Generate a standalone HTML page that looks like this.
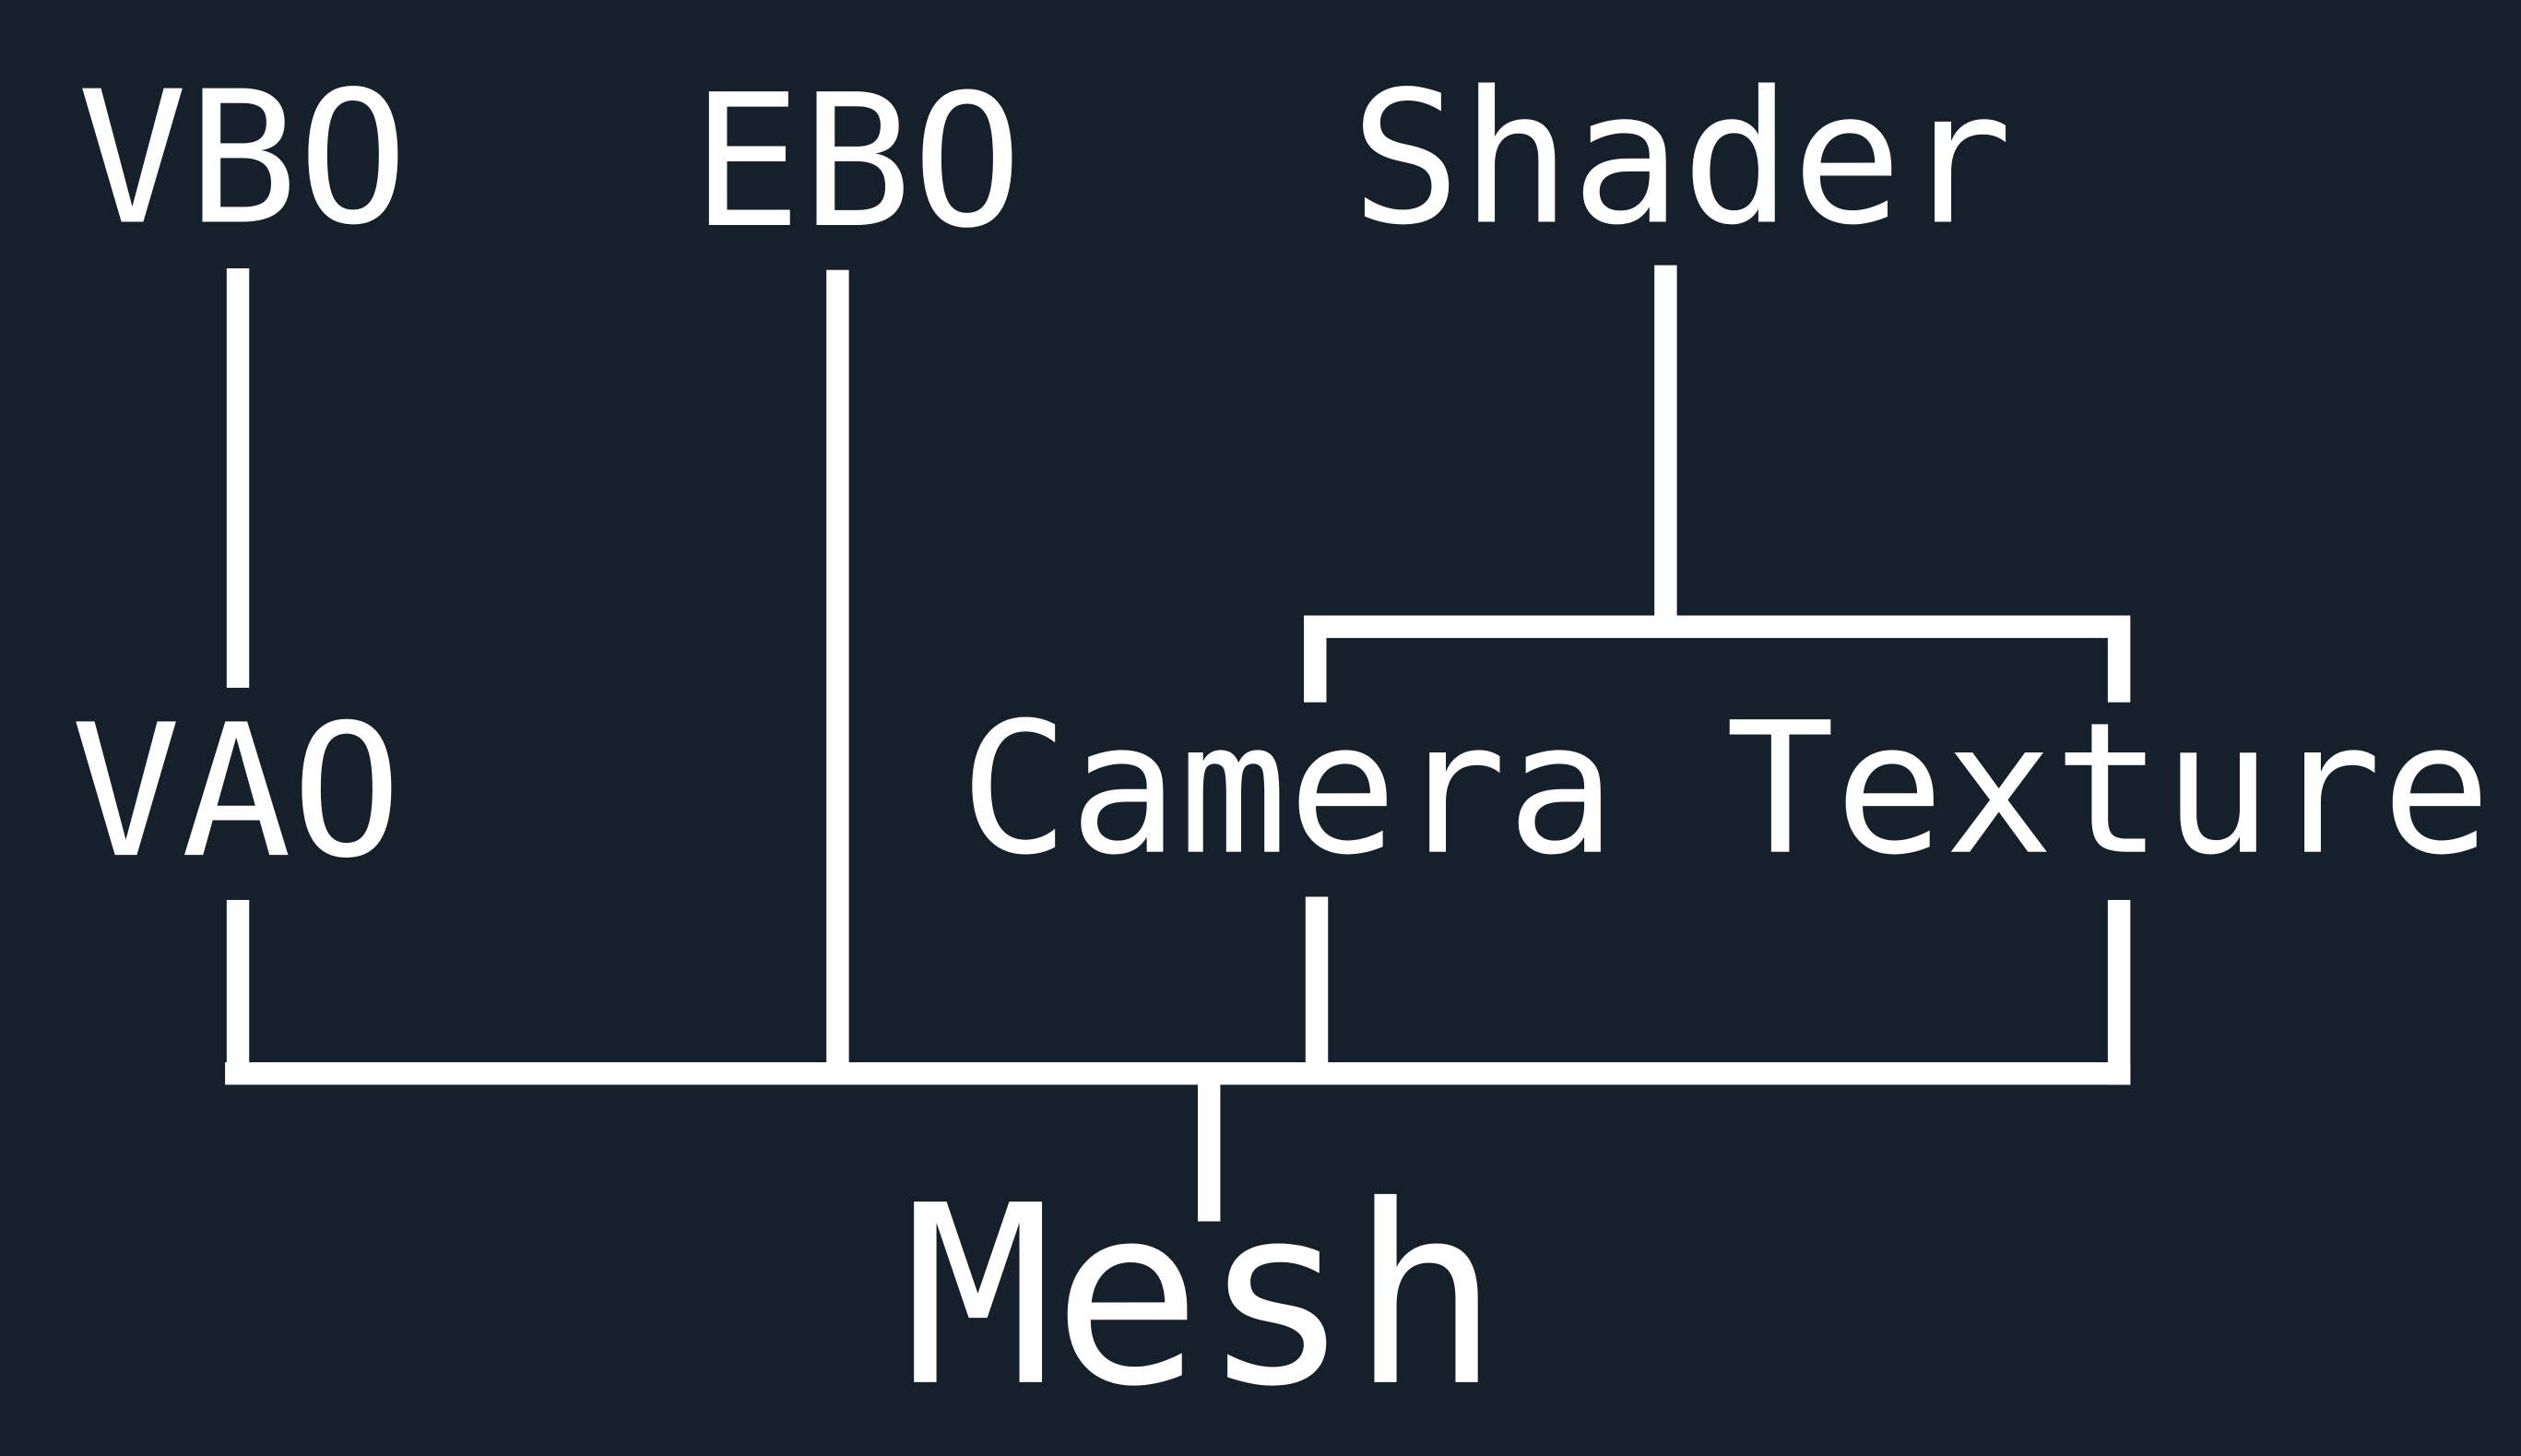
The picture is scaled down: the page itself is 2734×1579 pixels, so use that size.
<!DOCTYPE html>
<html><head><meta charset="utf-8"><style>
html,body{margin:0;padding:0;background:#16202a;}
svg{display:block;}
text{font-family:"DejaVu Sans Mono","Liberation Mono",monospace;fill:#fff;}
</style></head><body>
<svg width="2734" height="1579" viewBox="0 0 1568 906" preserveAspectRatio="none" xmlns="http://www.w3.org/2000/svg">
<rect width="1568" height="906" fill="#16202a"/>
<g stroke="#fff" stroke-width="14" fill="none">
<line x1="148" y1="167" x2="148" y2="428"/>
<line x1="521" y1="168" x2="521" y2="662"/>
<line x1="1036" y1="165" x2="1036" y2="390"/>
<polyline points="818,437 818,390 1318,390 1318,437"/>
<line x1="148" y1="560" x2="148" y2="668"/>
<line x1="819" y1="558" x2="819" y2="668"/>
<line x1="1318" y1="560" x2="1318" y2="675"/>
<line x1="140" y1="668" x2="1325" y2="668"/>
<line x1="752" y1="668" x2="752" y2="760"/>
</g>
<text x="48" y="138" font-size="114">VBO</text>
<text x="430" y="140" font-size="114">EBO</text>
<text x="840" y="138" font-size="114">Shader</text>
<text x="44" y="532" font-size="114">VAO</text>
<text x="597" y="530" font-size="113">Camera Texture</text>
<text x="562" y="860" font-size="154">Mesh</text>
</svg>
</body></html>
